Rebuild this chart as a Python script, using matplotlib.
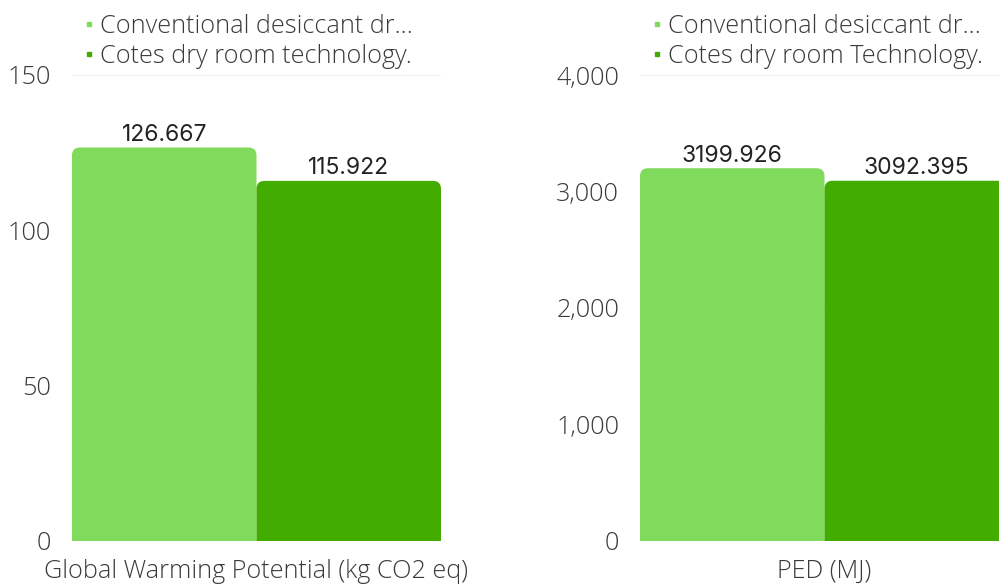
import matplotlib.pyplot as plt
from matplotlib.patches import FancyBboxPatch
from matplotlib.lines import Line2D
from matplotlib.ticker import FuncFormatter

# Series names and values for the two panels
series_left = ["Conventional desiccant dr\u2026", "Cotes dry room technology."]
series_right = ["Conventional desiccant dr\u2026", "Cotes dry room Technology."]
gwp_values = [126.667, 115.922]
ped_values = [3199.926, 3092.395]
gwp_category = "Global Warming Potential (kg CO2 eq)"
ped_category = "PED (MJ)"
gwp_ticks = [0, 50, 100, 150]
ped_ticks = [0, 1000, 2000, 3000, 4000]

colors = ["#80da5b", "#43ac01"]
text_color = "#3a3a3a"
label_font = "Open Sans"
value_font = "Inter"
fs = 18.2

W, H = 999, 584
fig = plt.figure(figsize=(W / 100, H / 100), dpi=100)


def rounded_bars(ax, values, radius_px=8):
    bars = ax.bar([-0.25, 0.25], values, width=0.5, color=colors)
    fig.canvas.draw()
    x0, y0 = ax.transData.transform((0, 0))
    x1, y1 = ax.transData.transform((1, 1))
    xpp = 1.0 / (x1 - x0)
    ypp = 1.0 / (y1 - y0)
    for b in bars:
        b.set_visible(False)
        r = radius_px * xpp
        p = FancyBboxPatch((b.get_x(), -radius_px * ypp * 2), b.get_width(),
                           b.get_height() + radius_px * ypp * 2,
                           boxstyle="round,pad=0,rounding_size=%f" % r,
                           mutation_aspect=ypp / xpp,
                           facecolor=b.get_facecolor(), edgecolor="none")
        ax.add_patch(p)
    return bars


def panel(rect, values, ticks, category, labels, fmt, leg_anchor):
    ax = fig.add_axes(rect)
    ax.set_xlim(-0.5, 0.5)
    ax.set_ylim(ticks[0], ticks[-1])
    ax.set_yticks(ticks)
    ax.yaxis.set_major_formatter(FuncFormatter(fmt))
    ax.set_xticks([0])
    ax.set_xticklabels([category])
    ax.grid(axis="y", color="#f0f0f0", linewidth=1)
    ax.set_axisbelow(True)
    for s in ax.spines.values():
        s.set_visible(False)
    ax.tick_params(axis="y", length=0, pad=15, labelsize=fs, labelcolor=text_color)
    ax.tick_params(axis="x", length=0, pad=13, labelsize=fs, labelcolor=text_color)
    for t in ax.get_xticklabels() + ax.get_yticklabels():
        t.set_fontfamily(label_font)
        t.set_fontweight("light")

    bars = rounded_bars(ax, values)
    for b, v in zip(bars, values):
        ax.annotate("%.3f" % v, (b.get_x() + b.get_width() / 2, v),
                    xytext=(0, 1.2), textcoords="offset points",
                    ha="center", va="bottom", fontsize=16.5,
                    fontfamily=value_font, color="#222222")

    handles = [Line2D([], [], marker="s", ls="", color=c, markersize=3.2) for c in colors]
    ax.legend(handles, labels, loc="lower left", bbox_to_anchor=leg_anchor,
              frameon=False, handlelength=0.3, handletextpad=0.3,
              labelspacing=0.2, borderaxespad=0, borderpad=0,
              prop={"family": label_font, "size": fs, "weight": "light"},
              labelcolor=text_color)
    return ax


left = panel([72 / W, 1 - 541 / H, 369 / W, 466 / H], gwp_values, gwp_ticks,
             gwp_category, series_left, lambda v, p: "%d" % v, (0.035, 1.013))
right = panel([640 / W, 1 - 541 / H, 369 / W, 466 / H], ped_values, ped_ticks,
              ped_category, series_right, lambda v, p: "{:,.0f}".format(v), (0.035, 1.013))

fig.savefig("out.png", dpi=100)
